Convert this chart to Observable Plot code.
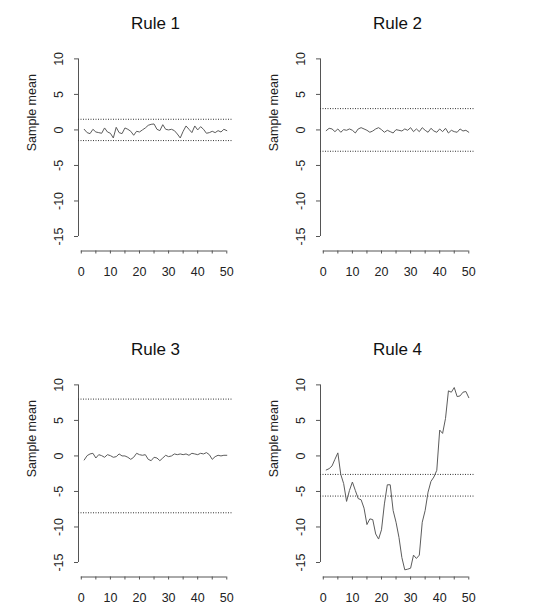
<!DOCTYPE html>
<html>
<head>
<meta charset="utf-8">
<script src="https://cdn.jsdelivr.net/npm/d3@7"></script>
<script src="https://cdn.jsdelivr.net/npm/@observablehq/plot@0.6"></script>
<style>
  body { margin: 0; background: #fff; }
  #wrap { position: relative; width: 560px; height: 614px; overflow: hidden; background: #fff; }
  .panel { position: absolute; }
</style>
</head>
<body>
<div id="wrap"></div>
<script>
// ---------- data ----------
const titles = ["Rule 1", "Rule 2", "Rule 3", "Rule 4"];
const yLabel = "Sample mean";

const rule1 = [0.09, -0.38, -0.52, 0.09, -0.29, -0.38, -0.47, 0.28, -0.29, -0.47,
  -1.13, 0.37, -0.38, -0.52, 0.28, 0.09, -0.19, -0.75, -0.19, -0.29,
  0.0, 0.28, 0.65, 0.79, 0.84, 0.09, -0.1, 0.74, 0.09, 0.0,
  0.09, -0.1, -0.57, -1.13, -0.19, 0.56, 0.09, -0.38, 0.56, 0.0,
  0.46, 0.09, -0.47, -0.38, -0.19, -0.38, -0.1, -0.29, 0.09, -0.1];

const rule2 = [-0.1, 0.23, 0.14, -0.24, 0.14, -0.33, 0.04, -0.05, 0.14, -0.05,
  -0.43, 0.14, 0.32, 0.14, -0.05, -0.33, -0.15, 0.14, 0.32, 0.04,
  -0.33, -0.05, -0.24, -0.43, 0.04, -0.05, -0.15, 0.14, -0.05, 0.32,
  -0.24, 0.14, -0.24, 0.32, -0.05, -0.33, 0.23, -0.15, -0.33, 0.14,
  -0.24, 0.23, -0.43, -0.05, -0.24, -0.33, 0.14, -0.15, -0.05, -0.33];

const rule3 = [-0.57, 0.04, 0.28, 0.37, -0.29, 0.18, 0.04, -0.19, 0.18, 0.04,
  -0.19, -0.1, 0.28, 0.0, 0.0, -0.19, -0.48, -0.19, 0.37, 0.18,
  0.09, 0.18, -0.48, -0.67, -0.19, -0.29, -0.67, -0.29, 0.09, -0.1,
  0.0, 0.28, 0.18, 0.28, 0.18, 0.28, 0.09, 0.37, 0.28, 0.18,
  0.37, 0.28, 0.47, 0.18, -0.48, -0.1, 0.09, 0.0, 0.09, 0.09];

const rule4 = [-1.98, -1.79, -1.41, -0.47, 0.43, -2.59, -3.9, -6.4, -4.85, -3.67,
  -4.85, -6.0, -6.17, -7.35, -9.66, -8.86, -8.96, -10.98, -11.7, -10.4,
  -6.75, -4.06, -4.06, -7.68, -9.33, -11.46, -14.3, -16.03, -15.94, -15.8,
  -13.96, -14.43, -13.96, -9.33, -7.68, -5.09, -3.58, -2.97, -2.02, 3.64,
  3.17, 5.29, 9.16, 8.97, 9.63, 8.35, 8.45, 8.97, 9.07, 8.2];

const limits1 = [1.5, -1.5];
const limits2 = [3, -3];
const limits3 = [8, -8];
const limits4 = [-2.6, -5.65];

const yTicks = [-15, -10, -5, 0, 5, 10];
const xMinorTicks = [0, 5, 10, 15, 20, 25, 30, 35, 40, 45, 50];
const xLabelTicks = [0, 10, 20, 30, 40, 50];

// data ranges (R-style 4% padding)
const xRange = [1, 50];
const yRange = [-16, 10];

// ---------- drawing ----------
const pad = (r) => { const d = (r[1] - r[0]) * 0.04; return [r[0] - d, r[1] + d]; };
const xDomain = pad(xRange);
const yDomain = pad(yRange);
const FONT = '"Liberation Sans", Arial, Helvetica, sans-serif';

function panel(title, values, limits) {
  const data = values.map((v, i) => ({t: i + 1, v}));
  return Plot.plot({
    width: 242,
    height: 288,
    marginLeft: 78,
    marginRight: 10,
    marginTop: 51,
    marginBottom: 37.5,
    x: {domain: xDomain, axis: null, label: null},
    y: {domain: yDomain, axis: null, label: null},
    style: {fontFamily: FONT, fontSize: "12px", color: "#222", background: "#fff", overflow: "visible"},
    marks: [
      Plot.ruleX([xDomain[0]], {y1: yTicks[0], y2: yTicks[yTicks.length - 1], stroke: "#555", strokeWidth: 1}),
      Plot.ruleY([yDomain[0]], {x1: xMinorTicks[0], x2: xMinorTicks[xMinorTicks.length - 1], stroke: "#555", strokeWidth: 1}),
      Plot.axisY({ticks: yTicks, anchor: "left", label: null, tickSize: 4, tickPadding: 11.5, tickRotate: -90,
        tickFormat: d => String(d), stroke: "#555", fill: "#222", fontSize: 12.5}),
      Plot.axisX({ticks: xMinorTicks, anchor: "bottom", label: null, tickSize: 3, tickFormat: () => "", stroke: "#555"}),
      Plot.axisX({ticks: xLabelTicks, anchor: "bottom", label: null, tickSize: 0, tickPadding: 16.5,
        tickFormat: d => String(d), fill: "#222", fontSize: 12.5}),
      Plot.ruleY(limits, {stroke: "#333", strokeWidth: 1, strokeDasharray: "1,1.5"}),
      Plot.line(data, {x: "t", y: "v", stroke: "#5c5c5c", strokeWidth: 1}),
      Plot.text([title], {text: d => d, frameAnchor: "top", dy: -35, fontSize: 17, fill: "#111"}),
      Plot.text([yLabel], {text: d => d, frameAnchor: "left", dx: -47, rotate: -90, fontSize: 12.5, fill: "#222"})
    ]
  });
}

const wrap = document.getElementById("wrap");
const series = [rule1, rule2, rule3, rule4];
const lims = [limits1, limits2, limits3, limits4];
const offsets = [[0, 0], [242, 0], [0, 326], [242, 326]];
series.forEach((s, i) => {
  const div = document.createElement("div");
  div.className = "panel";
  div.style.left = offsets[i][0] + "px";
  div.style.top = offsets[i][1] + "px";
  div.appendChild(panel(titles[i], s, lims[i]));
  wrap.appendChild(div);
});
</script>
</body>
</html>
